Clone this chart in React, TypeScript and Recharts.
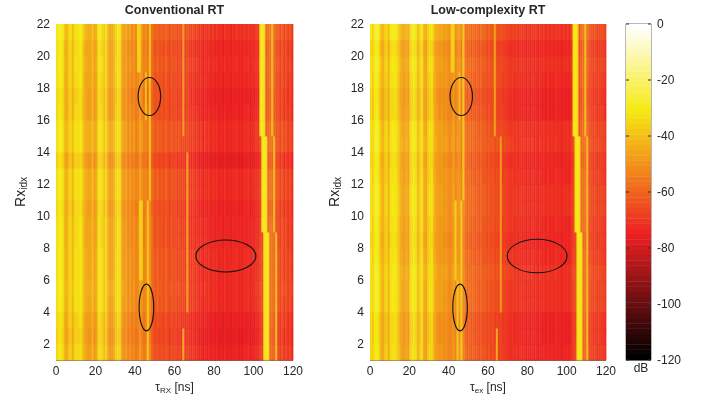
import React from 'react';
import { ScatterChart, Scatter, XAxis, YAxis, ReferenceArea } from 'recharts';

// dB per 1 ns delay bin
const conventionalColumns = [
  -33, -30, -29, -33, -41, -44, -37, -35, -42, -34,
  -34, -33, -31, -37, -43, -45, -46, -46, -41, -48,
  -45, -33, -32, -36, -39, -35, -44, -48, -46, -42,
  -36, -33, -35, -46, -50, -47, -52, -49, -53, -50,
  -54, -52, -47, -50, -55, -52, -57, -50, -58, -62,
  -64, -61, -65, -62, -66, -61, -64, -67, -63, -66,
  -64, -67, -65, -68, -66, -69, -66, -68, -70, -68,
  -72, -70, -73, -71, -75, -71, -73, -72, -75, -72,
  -74, -72, -75, -73, -76, -72, -75, -73, -76, -73,
  -74, -72, -75, -73, -75, -72, -74, -72, -75, -73,
  -74, -71, -72, -67, -66, -64, -62, -60, -58, -58,
  -60, -64, -64, -68, -63, -69, -65, -70, -66, -71,
];
const lowComplexityColumns = [
  -33, -36, -29, -28, -32, -40, -44, -38, -36, -42,
  -33, -32, -31, -33, -38, -43, -46, -47, -44, -47,
  -36, -32, -31, -34, -42, -36, -33, -44, -46, -38,
  -34, -33, -41, -46, -47, -49, -47, -50, -48, -50,
  -52, -50, -47, -52, -50, -49, -54, -52, -57, -60,
  -58, -61, -59, -62, -60, -63, -60, -64, -62, -65,
  -62, -65, -63, -66, -65, -67, -65, -68, -67, -69,
  -69, -71, -69, -72, -70, -73, -70, -72, -71, -74,
  -71, -74, -71, -73, -72, -75, -71, -74, -72, -74,
  -71, -74, -72, -74, -71, -73, -72, -75, -72, -74,
  -72, -74, -70, -67, -66, -65, -65, -60, -58, -58,
  -60, -64, -65, -68, -66, -69, -67, -68, -68, -70,
];

// level shift of each receive antenna row, row 1 first
const conventionalRows = [-1, -3, -2, 1, 1.5, 1, 1, 0, 0, -1, 1, 1, -3, 1.5, 1.5, -1, -1.5, 0, 1, 0, 2.5];
const lowComplexityRows = [-1, -2, -2, 1, 1, 1.5, 0, -1, 0, 1, 1, 0, -1, 1.5, 1, -1.5, -2, 0, 1, -1, 2.5];

// streaks that only span some rows: [tau, first row, last row, dB]
const conventionalStreaks = [
  [41, 19, 21, -36], [42, 19, 21, -36], [47, 11, 21, -38], [46, 1, 10, -38],
  [64, 15, 21, -48], [66, 4, 13, -48], [64, 1, 2, -44], [42, 6, 10, -37],
  [43, 6, 10, -37], [45, 16, 18, -40],
  [103, 15, 21, -33], [104, 15, 21, -31], [105, 15, 21, -34], [109, 15, 21, -42],
  [104, 9, 14, -33], [105, 9, 14, -31], [106, 9, 14, -33], [110, 9, 14, -42],
  [105, 1, 8, -33], [106, 1, 8, -30], [107, 1, 8, -32], [111, 1, 8, -41],
];
const lowComplexityStreaks = [
  [41, 19, 21, -36], [42, 19, 21, -36], [47, 11, 21, -38], [46, 1, 10, -38],
  [63, 15, 21, -48], [66, 4, 14, -48], [64, 1, 2, -44], [43, 6, 10, -37],
  [44, 1, 5, -39], [45, 16, 18, -40],
  [103, 15, 21, -33], [104, 15, 21, -31], [105, 15, 21, -34], [109, 15, 21, -42],
  [104, 9, 14, -33], [105, 9, 14, -31], [106, 9, 14, -33], [110, 9, 14, -42],
  [105, 1, 8, -33], [106, 1, 8, -30], [107, 1, 8, -32], [110, 1, 8, -41],
];

// ellipses: centre and half axes in data units
const conventionalEllipses = [
  { tau: 47.3, rx: 17.47, halfTau: 5.7, halfRx: 1.19 },
  { tau: 45.8, rx: 4.28, halfTau: 3.7, halfRx: 1.46 },
  { tau: 86, rx: 7.5, halfTau: 15.2, halfRx: 1 },
];
const lowComplexityEllipses = [
  { tau: 46.4, rx: 17.47, halfTau: 5.7, halfRx: 1.19 },
  { tau: 45.8, rx: 4.28, halfTau: 3.7, halfRx: 1.46 },
  { tau: 85, rx: 7.5, halfTau: 15.2, halfRx: 1.05 },
];

const tauTicks = [0, 20, 40, 60, 80, 100, 120];
const rxTicks = [2, 4, 6, 8, 10, 12, 14, 16, 18, 20, 22];
const dbTicks = [0, -20, -40, -60, -80, -100, -120];
const colorLevels = 64;

const font = '"Liberation Sans", Arial, sans-serif';
const textColor = '#262626';

// MATLAB "hot" as it came out in print
const hotStops = [
  [0, [0, 0, 0]],
  [0.375, [237, 32, 36]],
  [0.75, [245, 235, 20]],
  [1, [255, 255, 255]],
] as const;

function hot(db: number) {
  const raw = Math.min(1, Math.max(0, (db + 120) / 120));
  const f = (Math.floor(raw * (colorLevels - 1) + 0.5)) / (colorLevels - 1);
  let i = 0;
  while (i < hotStops.length - 2 && f > hotStops[i + 1][0]) i++;
  const [f0, c0] = hotStops[i];
  const [f1, c1] = hotStops[i + 1];
  const t = (f - f0) / (f1 - f0);
  const ch = (k: number) => Math.round(c0[k] + (c1[k] - c0[k]) * t);
  return `rgb(${ch(0)},${ch(1)},${ch(2)})`;
}

function buildCells(columns: number[], rows: number[], streaks: number[][]) {
  const cells: { tau: number; rx: number; db: number }[] = [];
  rows.forEach((shift, r) => {
    const row = r + 1;
    columns.forEach((value, c) => {
      const streak = streaks.find((s) => s[0] === c && row >= s[1] && row <= s[2]);
      cells.push({ tau: c + 0.5, rx: row + 0.5, db: streak ? streak[3] : value + shift });
    });
  });
  return cells;
}

const plotH = 336;

function Panel({ title, left, plotW, cells, ellipses, sub }: any) {
  const cellW = plotW / conventionalColumns.length;
  const cellH = plotH / conventionalRows.length;
  const pxTau = plotW / 120;
  const pxRx = plotH / 21;
  return (
    <div style={{ position: 'absolute', left, top: 0 }}>
      <ScatterChart width={56 + plotW + 20} height={400} margin={{ top: 24, right: 20, bottom: 0, left: 16 }}>
        <XAxis
          type="number"
          dataKey="tau"
          domain={[0, 120]}
          ticks={tauTicks}
          height={40}
          interval={0}
          tickLine={false}
          tickMargin={0}
          axisLine={{ stroke: '#6e6e6e', strokeWidth: 2 }}
          tick={{ fontSize: 12, fontFamily: font, fill: textColor }}
          label={{
            content: () => (
              <text x={56 + plotW / 2} y={391} textAnchor="middle" fontSize={12} fontFamily={font} fill={textColor}>
                τ<tspan fontSize={8} dy={2}>{sub}</tspan>
                <tspan dy={-2}> [ns]</tspan>
              </text>
            ),
          }}
        />
        <YAxis
          type="number"
          dataKey="rx"
          domain={[1, 22]}
          ticks={rxTicks}
          width={40}
          interval={0}
          tickLine={false}
          tickMargin={0}
          axisLine={false}
          tick={{ fontSize: 12, fontFamily: font, fill: textColor }}
          label={{
            content: () => (
              <text transform="translate(25 192) rotate(-90)" textAnchor="middle" fontSize={14} fontFamily={font} fill={textColor}>
                Rx<tspan fontSize={10} dy={2}>idx</tspan>
              </text>
            ),
          }}
        />
        <Scatter
          data={cells}
          isAnimationActive={false}
          shape={(p: any) => (
            <rect
              x={p.cx - cellW / 2}
              y={p.cy - cellH / 2}
              width={cellW + 0.4}
              height={cellH + 0.4}
              fill={hot(p.payload.db)}
            />
          )}
        />
        <Scatter
          data={ellipses}
          isAnimationActive={false}
          shape={(p: any) => (
            <ellipse
              cx={p.cx}
              cy={p.cy}
              rx={p.payload.halfTau * pxTau}
              ry={p.payload.halfRx * pxRx}
              fill="none"
              stroke="#111"
              strokeWidth={1.1}
            />
          )}
        />
        <text
          x={56 + plotW / 2}
          y={14}
          textAnchor="middle"
          fontSize={12.5}
          fontWeight="bold"
          fontFamily={font}
          fill={textColor}
        >
          {title}
        </text>
      </ScatterChart>
    </div>
  );
}

const barLevels = Array.from({ length: colorLevels }, (_, i) => ({
  x: 0.5,
  db: -120 + ((i + 0.5) * 120) / colorLevels,
}));

function BarTick({ x, y, payload }: any) {
  // x sits on the right edge of the bar
  return (
    <g>
      <line x1={x - 25} x2={x - 22} y1={y} y2={y} stroke="#333" />
      <line x1={x - 3} x2={x} y1={y} y2={y} stroke="#333" />
      <text x={x + 6} y={y + 4} fontSize={12} fontFamily={font} fill={textColor}>
        {payload.value}
      </text>
    </g>
  );
}

function ColorBar() {
  const levelH = plotH / colorLevels;
  return (
    <div style={{ position: 'absolute', left: 600, top: 0 }}>
      <ScatterChart width={104} height={400} margin={{ top: 24, right: 0, bottom: 40, left: 26 }}>
        <XAxis type="number" dataKey="x" domain={[0, 1]} hide />
        <YAxis
          type="number"
          dataKey="db"
          orientation="right"
          domain={[-120, 0]}
          ticks={dbTicks}
          width={53}
          interval={0}
          axisLine={false}
          tickLine={false}
          tickSize={0}
          tickMargin={0}
          tick={<BarTick />}
        />
        <Scatter
          data={barLevels}
          isAnimationActive={false}
          shape={(p: any) => (
            <rect x={p.cx - 12.5} y={p.cy - levelH / 2} width={25} height={levelH + 0.4} fill={hot(p.payload.db)} />
          )}
        />
        <ReferenceArea x1={0} x2={1} y1={-120} y2={0} fill="none" stroke="#6e6e6e" strokeWidth={1} />
        <text x={41} y={372} textAnchor="middle" fontSize={12} fontFamily={font} fill={textColor}>
          dB
        </text>
      </ScatterChart>
    </div>
  );
}

const conventionalCells = buildCells(conventionalColumns, conventionalRows, conventionalStreaks);
const lowComplexityCells = buildCells(lowComplexityColumns, lowComplexityRows, lowComplexityStreaks);

export default function App() {
  return (
    <div style={{ position: 'absolute', left: 0, top: 0, width: 704, height: 400, background: '#fff', overflow: 'hidden', filter: 'blur(0.4px)' }}>
      <Panel title="Conventional RT" left={0} plotW={237} cells={conventionalCells} ellipses={conventionalEllipses} sub="RX" />
      <Panel title="Low-complexity RT" left={314} plotW={236} cells={lowComplexityCells} ellipses={lowComplexityEllipses} sub="ex" />
      <ColorBar />
    </div>
  );
}
